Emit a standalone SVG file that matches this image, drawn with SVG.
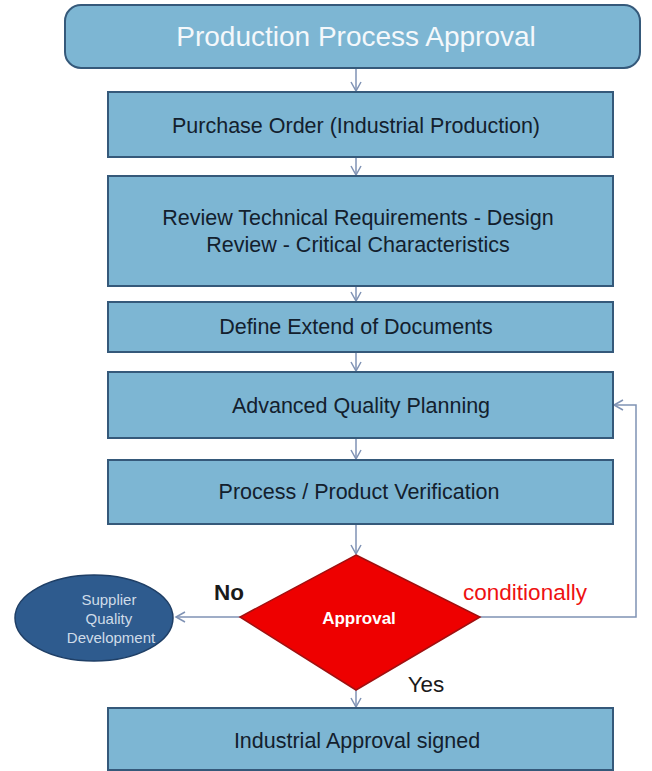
<svg xmlns="http://www.w3.org/2000/svg" width="652" height="771" viewBox="0 0 652 771">
  <style>
    .box { fill: #7db6d3; stroke: #35597a; stroke-width: 2; }
    .lbl { font-family: "Liberation Sans", Arial, sans-serif; font-size: 21.5px; fill: #13202d; text-anchor: middle; }
    .conn { fill: none; stroke: #7f92b4; stroke-width: 1.5; }
  </style>
  <defs>
    <marker id="open" markerWidth="14" markerHeight="14" refX="10" refY="6" orient="auto" markerUnits="userSpaceOnUse">
      <path d="M1,1 L10,6 L1,11" fill="none" stroke="#7f92b4" stroke-width="1.5"/>
    </marker>
  </defs>
  <rect width="652" height="771" fill="#ffffff"/>

  <g id="connectors">
    <line class="conn" x1="356" y1="68" x2="356" y2="91" marker-end="url(#open)"/>
    <line class="conn" x1="356" y1="157" x2="356" y2="175" marker-end="url(#open)"/>
    <line class="conn" x1="356" y1="286" x2="356" y2="301" marker-end="url(#open)"/>
    <line class="conn" x1="356" y1="352" x2="356" y2="371" marker-end="url(#open)"/>
    <line class="conn" x1="356" y1="438" x2="356" y2="459" marker-end="url(#open)"/>
    <line class="conn" x1="356" y1="524" x2="356" y2="554" marker-end="url(#open)"/>
    <line class="conn" x1="356" y1="690" x2="356" y2="707" marker-end="url(#open)"/>
    <line class="conn" x1="240" y1="617" x2="176" y2="617" marker-end="url(#open)"/>
    <polyline class="conn" points="480,617 636,617 636,405 614,405" marker-end="url(#open)"/>
  </g>

  <g id="title">
    <rect x="65" y="5" width="575" height="63" rx="16" ry="16" fill="#7db6d3" stroke="#35597a" stroke-width="2"/>
    <text x="356" y="46" font-family="Liberation Sans, Arial, sans-serif" font-size="28" fill="#f4f8fb" text-anchor="middle">Production Process Approval</text>
  </g>

  <g id="purchase-order">
    <rect class="box" x="108" y="92" width="505" height="65"/>
    <text class="lbl" x="356" y="133">Purchase Order (Industrial Production)</text>
  </g>

  <g id="review">
    <rect class="box" x="108" y="176" width="505" height="110"/>
    <text class="lbl" x="358" y="225">Review Technical Requirements - Design</text>
    <text class="lbl" x="358" y="252">Review - Critical Characteristics</text>
  </g>

  <g id="define-extend">
    <rect class="box" x="108" y="302" width="505" height="50"/>
    <text class="lbl" x="356" y="334">Define Extend of Documents</text>
  </g>

  <g id="quality-planning">
    <rect class="box" x="108" y="372" width="505" height="66"/>
    <text class="lbl" x="361" y="413">Advanced Quality Planning</text>
  </g>

  <g id="verification">
    <rect class="box" x="108" y="460" width="505" height="64"/>
    <text class="lbl" x="359" y="499">Process / Product Verification</text>
  </g>

  <g id="approval">
    <polygon points="356,555 480,617 356,690 240,617" fill="#ee0000" stroke="#a01010" stroke-width="1.5"/>
    <text x="359" y="624" font-family="Liberation Sans, Arial, sans-serif" font-size="17" font-weight="bold" fill="#ffffff" text-anchor="middle">Approval</text>
  </g>

  <g id="supplier-development">
    <ellipse cx="94" cy="618" rx="79" ry="43" fill="#2e5b8e" stroke="#1f3f66" stroke-width="1.5"/>
    <text font-family="Liberation Sans, Arial, sans-serif" font-size="15" fill="#cfdbe8" text-anchor="middle">
      <tspan x="111" y="605">Supplier</tspan>
      <tspan x="111" y="624">Quality</tspan>
      <tspan x="111" y="643">Development</tspan>
    </text>
  </g>

  <g id="decision-labels" font-family="Liberation Sans, Arial, sans-serif" font-size="22.5">
    <text x="229" y="600" fill="#1a1a1a" font-weight="bold" text-anchor="middle">No</text>
    <text x="525" y="600" fill="#ee1111" text-anchor="middle">conditionally</text>
    <text x="426" y="692" fill="#1a1a1a" text-anchor="middle">Yes</text>
  </g>

  <g id="industrial-approval">
    <rect class="box" x="108" y="708" width="505" height="62"/>
    <text class="lbl" x="357" y="748">Industrial Approval signed</text>
  </g>
</svg>
